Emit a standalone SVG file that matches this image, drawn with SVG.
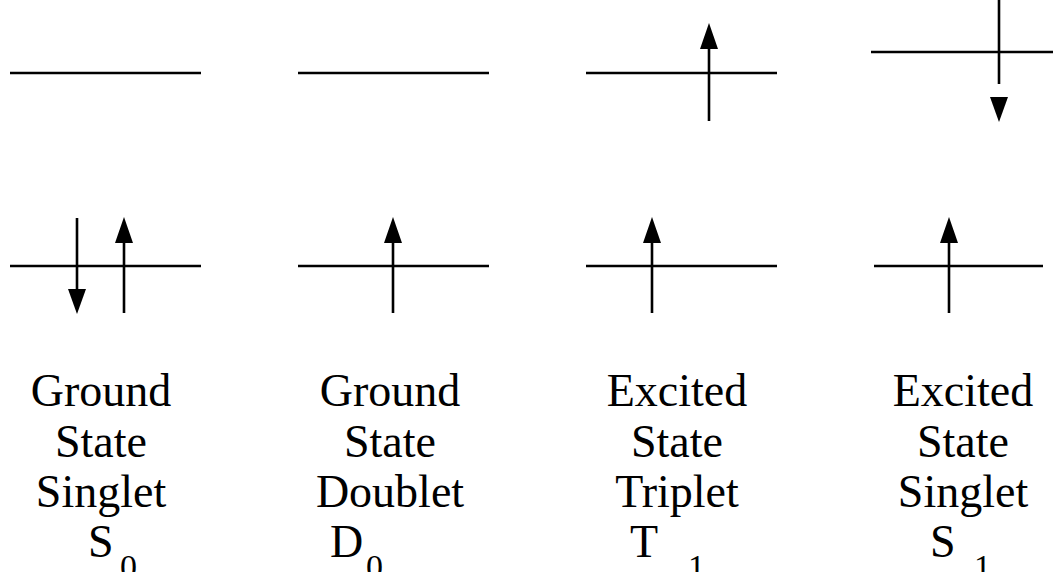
<svg xmlns="http://www.w3.org/2000/svg" width="1053" height="572" viewBox="0 0 1053 572">
<style>
.l{stroke:#000;stroke-width:2.6;fill:none}
.h{fill:#000}
.t{font-family:"Liberation Serif","Times New Roman",Times,serif;font-size:46px;fill:#000;text-anchor:middle}
.sub{font-size:34px}
.base{text-anchor:start}
</style>
<rect width="1053" height="572" fill="#fff"/>
<g id="connectors">
<line class="l" x1="77" y1="218" x2="77" y2="292"/>
<polygon class="h" points="68,289 86,289 77,314"/>
<line class="l" x1="124" y1="313" x2="124" y2="240"/>
<polygon class="h" points="115,243 133,243 124,217"/>
<line class="l" x1="393" y1="313" x2="393" y2="240"/>
<polygon class="h" points="384,243 402,243 393,217"/>
<line class="l" x1="709" y1="121" x2="709" y2="46"/>
<polygon class="h" points="700,49 718,49 709,23"/>
<line class="l" x1="652" y1="313" x2="652" y2="240"/>
<polygon class="h" points="643,243 661,243 652,217"/>
<line class="l" x1="999" y1="0" x2="999" y2="84"/>
<polygon class="h" points="990,97 1008,97 999,122"/>
<line class="l" x1="949" y1="313" x2="949" y2="240"/>
<polygon class="h" points="940,243 958,243 949,217"/>
</g>
<g id="col1">
<line class="l" x1="10" y1="73" x2="201" y2="73"/>
<line class="l" x1="10" y1="266" x2="201" y2="266"/>
<text class="t" x="101" y="406">Ground</text>
<text class="t" x="101" y="457">State</text>
<text class="t" x="101" y="507">Singlet</text>
<text class="t base" x="88" y="557">S<tspan class="sub" x="120" y="578">0</tspan></text>
</g>
<g id="col2">
<line class="l" x1="298" y1="73" x2="489" y2="73"/>
<line class="l" x1="298" y1="266" x2="489" y2="266"/>
<text class="t" x="390" y="406">Ground</text>
<text class="t" x="390" y="457">State</text>
<text class="t" x="390" y="507">Doublet</text>
<text class="t base" x="330" y="557">D<tspan class="sub" x="366" y="578">0</tspan></text>
</g>
<g id="col3">
<line class="l" x1="586" y1="73" x2="777" y2="73"/>
<line class="l" x1="586" y1="266" x2="777" y2="266"/>
<text class="t" x="677" y="406">Excited</text>
<text class="t" x="677" y="457">State</text>
<text class="t" x="677" y="507">Triplet</text>
<text class="t base" x="630" y="557">T<tspan class="sub" x="688" y="578">1</tspan></text>
</g>
<g id="col4">
<line class="l" x1="871" y1="52" x2="1053" y2="52"/>
<line class="l" x1="874" y1="266" x2="1043" y2="266"/>
<text class="t" x="963" y="406">Excited</text>
<text class="t" x="963" y="457">State</text>
<text class="t" x="963" y="507">Singlet</text>
<text class="t base" x="930" y="557">S<tspan class="sub" x="974" y="578">1</tspan></text>
</g>
</svg>
